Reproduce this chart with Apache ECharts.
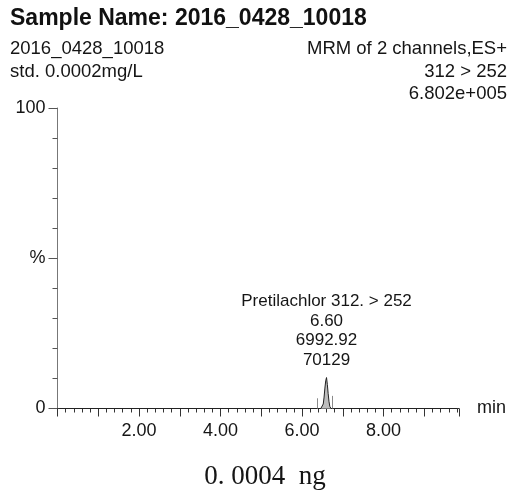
<!DOCTYPE html>
<html>
<head>
<meta charset="utf-8">
<script src="https://cdn.jsdelivr.net/npm/echarts@6/dist/echarts.min.js"></script>
<style>
html,body{margin:0;padding:0;background:#fff;}
#c{width:519px;height:490px;}
</style>
</head>
<body>
<div id="c"></div>
<script>
// ---- data ----
var times = [0.05, 6.30, 6.46, 6.49, 6.52, 6.54, 6.56, 6.58, 6.60, 6.62, 6.64, 6.66, 6.68, 6.71, 6.80, 9.80];
var intensity = [0, 0, 0, 0.3, 1.5, 3.8, 6.8, 9.2, 10.3, 8.0, 5.0, 2.4, 0.7, 0, 0, 0];
var integrationMarks = [6.38, 6.74];
var integrationMarkHeights = [3.4, 4.2];
var peakLabelLines = ['Pretilachlor 312. > 252', '6.60', '6992.92', '70129'];
var xLabelValues = [2, 4, 6, 8];
var yLabelMap = {0: '0', 50: '%', 100: '100'};
var titleText = 'Sample Name: 2016_0428_10018';
var leftInfo = ['2016_0428_10018', 'std. 0.0002mg/L'];
var rightInfo = ['MRM of 2 channels,ES+', '312 > 252', '6.802e+005'];
var footerText = '0. 0004  ng';

var SANS = 'Liberation Sans, Arial, sans-serif';
var SERIF = 'Liberation Serif, Times New Roman, serif';

var peakIdx = 0;
for (var i = 0; i < intensity.length; i++) if (intensity[i] > intensity[peakIdx]) peakIdx = i;

var seriesData = times.map(function (t, i) { return [t, intensity[i]]; });

var markData = integrationMarks.map(function (t, i) {
  return [{coord: [t, 0]}, {coord: [t, integrationMarkHeights[i]]}];
});

var graphics = [];
graphics.push({type: 'text', x: 10, y: 18.5, style: {text: titleText, font: 'bold 23px ' + SANS, fill: '#111', align: 'left', verticalAlign: 'middle'}});
leftInfo.forEach(function (s, i) {
  graphics.push({type: 'text', x: 10, y: 49 + i * 22.5, style: {text: s, font: '18.5px ' + SANS, fill: '#151515', align: 'left', verticalAlign: 'middle'}});
});
rightInfo.forEach(function (s, i) {
  graphics.push({type: 'text', x: 507, y: 49 + i * 22.5, style: {text: s, font: '18.5px ' + SANS, fill: '#151515', align: 'right', verticalAlign: 'middle'}});
});
graphics.push({type: 'text', x: 265, y: 477, style: {text: footerText, font: '27px ' + SERIF, fill: '#151515', align: 'center', verticalAlign: 'middle'}});

var chart = echarts.init(document.getElementById('c'), null, {renderer: 'canvas'});
chart.setOption({
  animation: false,
  backgroundColor: '#fff',
  grid: {left: 57.5, right: 60, top: 108, bottom: 81.5, containLabel: false},
  xAxis: {
    type: 'value',
    min: 0,
    max: 9.85,
    interval: 1,
    name: 'min',
    nameLocation: 'end',
    nameGap: 18,
    nameTextStyle: {fontFamily: SANS, fontSize: 18, color: '#151515', verticalAlign: 'middle'},
    axisLine: {show: true, lineStyle: {color: '#333', width: 1}},
    axisTick: {show: true, inside: false, length: 8, lineStyle: {color: '#333'}},
    minorTick: {show: true, splitNumber: 5, length: 4, lineStyle: {color: '#333'}},
    splitLine: {show: false},
    minorSplitLine: {show: false},
    axisLabel: {
      show: true, margin: 14, fontFamily: SANS, fontSize: 18, color: '#151515',
      showMinLabel: true, showMaxLabel: false,
      formatter: function (v) { return xLabelValues.indexOf(Math.round(v * 100) / 100) >= 0 ? v.toFixed(2) : ''; }
    }
  },
  yAxis: {
    type: 'value',
    min: 0,
    max: 100,
    interval: 50,
    axisLine: {show: true, lineStyle: {color: '#777', width: 1}},
    axisTick: {show: true, inside: false, length: 9, lineStyle: {color: '#555'}},
    minorTick: {show: true, splitNumber: 5, length: 5, lineStyle: {color: '#555'}},
    splitLine: {show: false},
    minorSplitLine: {show: false},
    axisLabel: {
      show: true, margin: 12, fontFamily: SANS, fontSize: 18, color: '#151515',
      formatter: function (v) { return yLabelMap[v] !== undefined ? yLabelMap[v] : ''; }
    }
  },
  series: [{
    type: 'line',
    data: seriesData,
    showSymbol: false,
    symbol: 'none',
    smooth: false,
    lineStyle: {color: '#222', width: 1},
    areaStyle: {color: '#bdbdbd', opacity: 1},
    markLine: {
      silent: true,
      symbol: 'none',
      label: {show: false},
      lineStyle: {color: '#8a8a8a', width: 1, type: 'solid'},
      data: markData
    },
    markPoint: {
      silent: true,
      symbol: 'circle',
      symbolSize: 1,
      itemStyle: {color: 'rgba(0,0,0,0)'},
      data: [{
        coord: [times[peakIdx], intensity[peakIdx]],
        label: {
          show: true,
          position: 'top',
          distance: 7,
          formatter: peakLabelLines.join('\n'),
          fontFamily: SANS,
          fontSize: 17,
          lineHeight: 19.5,
          color: '#151515',
          align: 'center'
        }
      }]
    },
    z: 3
  }],
  graphic: graphics
});
</script>
</body>
</html>
